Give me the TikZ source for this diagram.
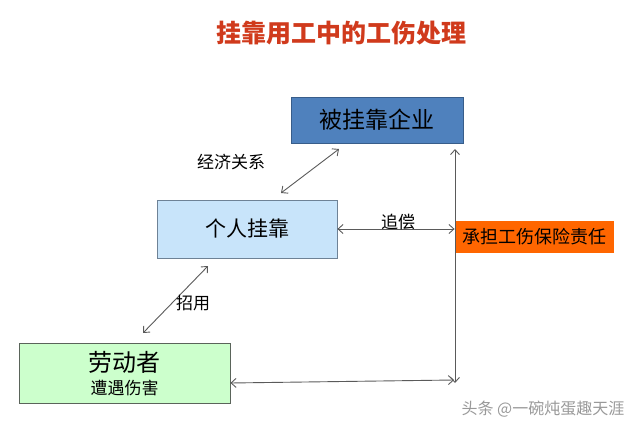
\documentclass[tikz,border=0pt]{standalone}
\usepackage{fontspec}
\setmainfont{Noto Sans CJK SC}
\usetikzlibrary{arrows.meta}
\definecolor{titlered}{RGB}{208,58,28}
\definecolor{bossblue}{RGB}{79,129,189}
\definecolor{bossline}{RGB}{56,93,138}
\definecolor{selfblue}{RGB}{200,228,250}
\definecolor{selfline}{RGB}{110,130,150}
\definecolor{dutyorange}{RGB}{255,102,0}
\definecolor{workgreen}{RGB}{204,255,204}
\definecolor{workline}{RGB}{90,100,90}
\definecolor{arrowgray}{RGB}{90,90,90}
\tikzset{
  box/.style={draw, line width=0.8pt, inner sep=0pt, align=center},
  link/.style={draw=arrowgray, line width=0.9pt,
    {Straight Barb[length=5pt,width=9pt]}-{Straight Barb[length=5pt,width=9pt]}},
  lab/.style={font=\fontsize{17}{20}\selectfont}
}
\begin{document}
\begin{tikzpicture}[x=1pt,y=-1pt]
\useasboundingbox (0,0) rectangle (640,431);
% Title
\node[font=\fontsize{25}{28}\selectfont\bfseries, text=titlered] (title) at (341,33) {挂靠用工中的工伤处理};
% Boxes
\node[box, fill=bossblue, draw=bossline, minimum width=172pt, minimum height=46pt,
      font=\fontsize{23}{26}\selectfont] (boss) at (377,120) {被挂靠企业};
\node[box, fill=selfblue, draw=selfline, minimum width=180pt, minimum height=58pt,
      font=\fontsize{21}{24}\selectfont] (self) at (247,229) {个人挂靠};
\node[box, fill=dutyorange, draw=dutyorange, minimum width=158pt, minimum height=31pt,
      font=\fontsize{18}{20}\selectfont] (duty) at (534,236.5) {承担工伤保险责任};
\node[box, fill=workgreen, draw=workline, minimum width=211pt, minimum height=60pt] (worker) at (124.5,373) {};
\node[font=\fontsize{24}{26}\selectfont] (workname) at (124.5,362) {劳动者};
\node[font=\fontsize{17}{19}\selectfont] (workhurt) at (124.5,388) {遭遇伤害};
% Connector end points
\coordinate (vtop) at (455,149);
\coordinate (vbot) at (455,383);
\coordinate (vmid) at (454,380);
\coordinate (econlo) at (281,193);
\coordinate (econhi) at (339,149);
\coordinate (hirelo) at (143,333);
\coordinate (hirehi) at (208,266);
% Connectors
\draw[link] (vtop) -- (vbot);
\draw[link] (self.east) -- (self.east -| duty.west);
\draw[link] (econlo) -- (econhi);
\draw[link] (hirelo) -- (hirehi);
\draw[link] (worker.east |- 0,383) -- (vmid);
% Labels
\node[lab] (econ) at (231,162) {经济关系};
\node[lab] (chase) at (398,222) {追偿};
\node[lab] (hire) at (193,303) {招用};
\node[font=\fontsize{16}{18}\selectfont, text=gray!80] (mark) at (543,409) {头条 @一碗炖蛋趣天涯};
\end{tikzpicture}
\end{document}
